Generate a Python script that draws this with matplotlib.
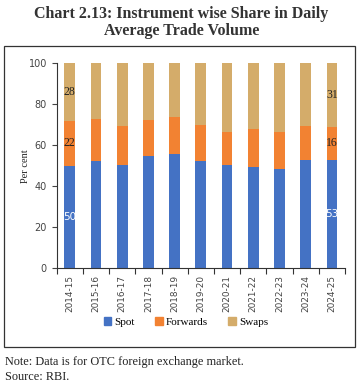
import matplotlib
matplotlib.use("Agg")
import matplotlib.pyplot as plt
from matplotlib.patches import Rectangle, Patch
import numpy as np

years = ["2014-15", "2015-16", "2016-17", "2017-18", "2018-19", "2019-20",
         "2020-21", "2021-22", "2022-23", "2023-24", "2024-25"]
spot = [50, 52.4, 50.2, 54.8, 55.8, 52.4, 50.4, 49.6, 48.5, 52.8, 53]
forwards = [22, 20.4, 19.2, 17.6, 18.0, 17.4, 16.1, 18.5, 18.0, 16.6, 16]
swaps = [100 - s - f for s, f in zip(spot, forwards)]

label_idx = [0, 10]
spot_lbl = ["50", "53"]
fwd_lbl = ["22", "16"]
swp_lbl = ["28", "31"]

c_spot = "#4472C4"
c_fwd = "#F28232"
c_swp = "#D4AC6A"

W, H = 363, 388
fig = plt.figure(figsize=(W / 100, H / 100), dpi=100)
fig.patch.set_facecolor("white")

# frame around chart
fig.patches.append(Rectangle((4 / W, 1 - 347 / H), (355 - 4) / W, (347 - 45.7) / H,
                             transform=fig.transFigure, fill=False,
                             edgecolor="#333333", linewidth=0.9))

ax = fig.add_axes([56.7 / W, 1 - 268.3 / H, (345 - 56.7) / W, (268.3 - 63.3) / H])
x = np.arange(len(years))
bw = 0.41
ax.bar(x, spot, bw, color=c_spot, label="Spot")
ax.bar(x, forwards, bw, bottom=spot, color=c_fwd, label="Forwards")
bot2 = [s + f for s, f in zip(spot, forwards)]
ax.bar(x, swaps, bw, bottom=bot2, color=c_swp, label="Swaps")

serif = "Liberation Serif"
for k, i in enumerate(label_idx):
    ax.text(i, spot[i] / 2, spot_lbl[k], ha="center", va="center",
            color="white", fontsize=7.5, family="DejaVu Sans")
    ax.text(i, spot[i] + forwards[i] / 2, fwd_lbl[k], ha="center", va="center",
            color="#222222", fontsize=8.5, family=serif)
    ax.text(i, bot2[i] + swaps[i] / 2, swp_lbl[k], ha="center", va="center",
            color="#222222", fontsize=8.5, family=serif)

ax.set_xlim(-0.5, len(years) - 0.5)
ax.set_ylim(0, 100)
ax.set_yticks(range(0, 101, 20))
ax.set_xticks(x)
ax.set_xticklabels(years, rotation=90, fontsize=6.4, color="#444444")
ax.tick_params(axis="x", length=0, pad=5)
ax.set_xticks(np.arange(-0.5, len(years), 1), minor=True)
ax.tick_params(axis="x", which="minor", length=4, color="#333333", width=0.8)
ax.tick_params(axis="y", labelsize=7, colors="#444444", length=3.5, width=0.8)
for sp in ["top", "right"]:
    ax.spines[sp].set_visible(False)
for sp in ["left", "bottom"]:
    ax.spines[sp].set_color("#333333")
    ax.spines[sp].set_linewidth(0.8)
ax.set_ylabel("Per cent", family=serif, fontsize=7.5, color="#222222")
ax.yaxis.set_label_coords((30 - 56.7) / (345 - 56.7), 0.5)

handles = [Patch(color=c_spot), Patch(color=c_fwd), Patch(color=c_swp)]
fig.legend(handles, ["Spot", "Forwards", "Swaps"], loc="center",
           bbox_to_anchor=(186 / W, 1 - 322 / H), ncol=3, frameon=False,
           prop={"family": serif, "size": 8}, handlelength=0.7, handleheight=0.7,
           handletextpad=0.3, columnspacing=1.8)

fig.text(0.5, 1 - 14 / H, "Chart 2.13: Instrument wise Share in Daily", ha="center",
         va="center", family=serif, fontweight="bold", fontsize=11.5, color="#333333")
fig.text(0.5, 1 - 31 / H, "Average Trade Volume", ha="center",
         va="center", family=serif, fontweight="bold", fontsize=11.5, color="#333333")
fig.text(5 / W, 1 - 362 / H, "Note: Data is for OTC foreign exchange market.",
         ha="left", va="center", family=serif, fontsize=8.8, color="#222222")
fig.text(5 / W, 1 - 377 / H, "Source: RBI.",
         ha="left", va="center", family=serif, fontsize=8.8, color="#222222")

fig.savefig("out.png", dpi=100, facecolor="white")
